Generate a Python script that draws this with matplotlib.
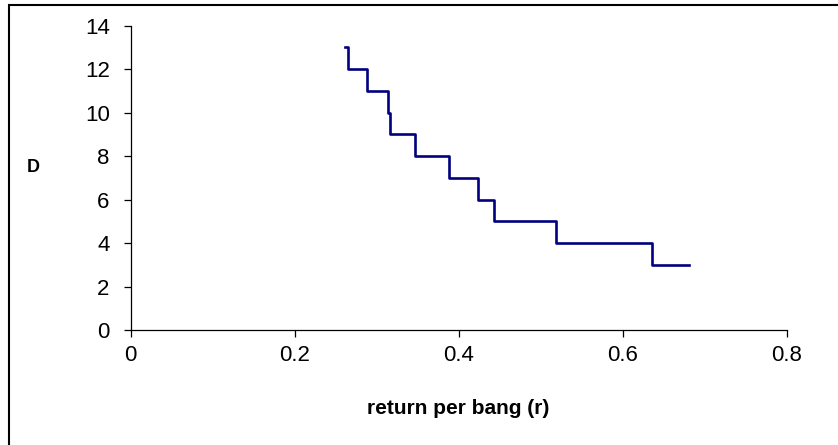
import matplotlib
matplotlib.use("Agg")
import matplotlib.pyplot as plt
from matplotlib.patches import Rectangle

plt.rcParams['font.family'] = ['Liberation Sans', 'DejaVu Sans']

# step breakpoints (return per bang r) and D values
r_values = [0.2616, 0.2656, 0.288, 0.3144, 0.3165, 0.3470, 0.3888, 0.4241, 0.4437, 0.5189, 0.6356, 0.6815]
d_values = [13, 12, 11, 10, 9, 8, 7, 6, 5, 4, 3, 3]

x_ticks = [0, 0.2, 0.4, 0.6, 0.8]
x_labels = ['0', '0.2', '0.4', '0.6', '0.8']
y_ticks = [0, 2, 4, 6, 8, 10, 12, 14]

W, H = 838, 445
fig = plt.figure(figsize=(W / 100, H / 100), dpi=100)
ax = fig.add_axes([130.5 / W, 1 - 330 / H, (786.5 - 130.5) / W, (330 - 25.7) / H])

ax.step(r_values, d_values, where='post', color='#000080', linewidth=1.9)

ax.set_xlim(0, 0.8)
ax.set_ylim(0, 14)
ax.set_xticks(x_ticks)
ax.set_xticklabels(x_labels)
ax.set_yticks(y_ticks)
for s in ['top', 'right']:
    ax.spines[s].set_visible(False)
for s in ['left', 'bottom']:
    ax.spines[s].set_linewidth(0.9)
    ax.spines[s].set_color('black')
ax.tick_params(axis='both', direction='out', length=5, width=0.9, labelsize=16)
ax.tick_params(axis='y', pad=10)
ax.tick_params(axis='x', pad=6)

fig.text(33.3 / W, 1 - 167.7 / H, 'D', fontsize=13, fontweight='bold', ha='center', va='center')
fig.text(458.5 / W, 1 - 409 / H, 'return per bang (r)', fontsize=15, fontweight='bold', ha='center', va='center')

# chart border (extends past the right and bottom of the image)
fig.patches.append(Rectangle((8.5 / W, -0.1), 1.2, 1 - 5 / H + 0.1, transform=fig.transFigure,
                             fill=False, edgecolor='black', linewidth=1.5))

fig.savefig('out.png', dpi=100)
